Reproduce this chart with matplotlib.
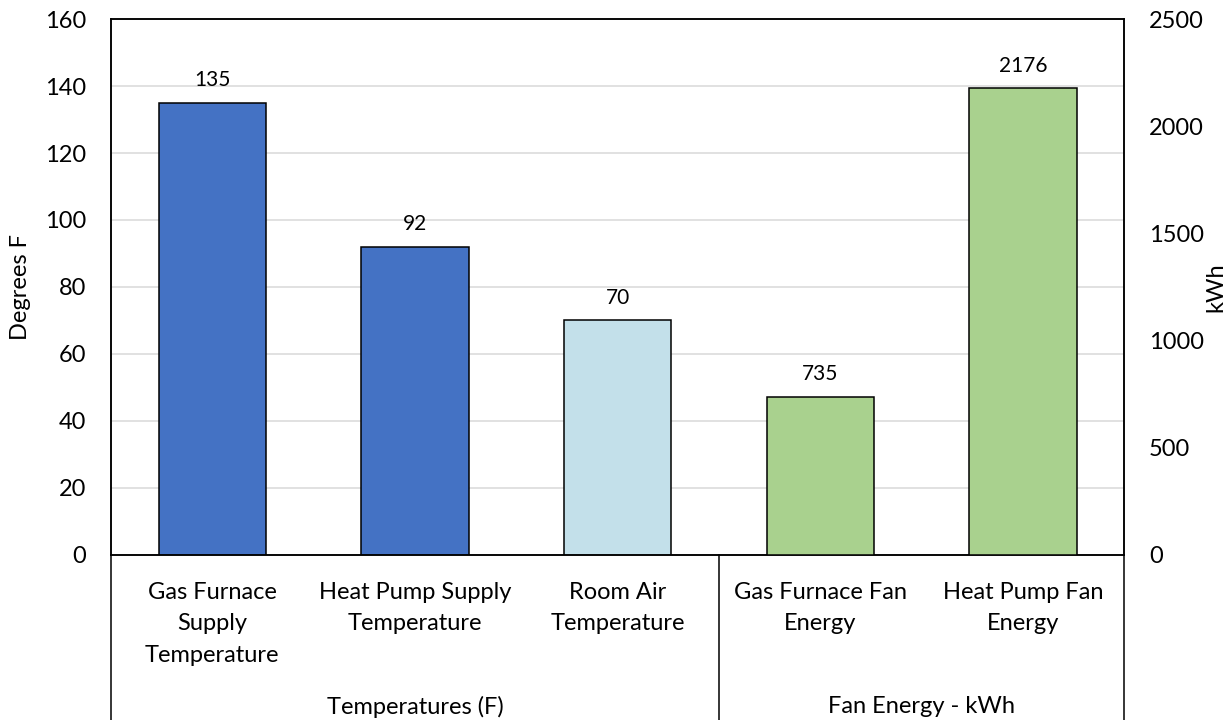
import matplotlib.pyplot as plt
from matplotlib.transforms import blended_transform_factory

plt.rcParams['font.family'] = ['Lato', 'DejaVu Sans']

# Temperatures (left axis, degrees F)
temp_labels = ['Gas Furnace\nSupply\nTemperature', 'Heat Pump Supply\nTemperature',
               'Room Air\nTemperature']
temp_values = [135, 92, 70]
temp_colors = ['#4472C4', '#4472C4', '#C3E0EA']

# Fan energy (right axis, kWh)
fan_labels = ['Gas Furnace Fan\nEnergy', 'Heat Pump Fan\nEnergy']
fan_values = [735, 2176]
fan_color = '#A9D18E'

group_names = ['Temperatures (F)', 'Fan Energy - kWh']

fig = plt.figure(figsize=(12.29, 7.2), dpi=100)
ax = fig.add_axes([0.0903, 0.2292, 0.8244, 0.7444])
ax2 = ax.twinx()

x_temp = list(range(len(temp_values)))
x_fan = [len(temp_values) + i for i in range(len(fan_values))]
width = 0.53

bars1 = ax.bar(x_temp, temp_values, width, color=temp_colors,
               edgecolor='black', linewidth=1.1, zorder=3)
bars2 = ax2.bar(x_fan, fan_values, width, color=fan_color,
                edgecolor='black', linewidth=1.1, zorder=3)

for bars, axis in [(bars1, ax), (bars2, ax2)]:
    for b in bars:
        axis.annotate(f'{b.get_height():.0f}', (b.get_x() + b.get_width() / 2, b.get_height()),
                      xytext=(0, 16.5), textcoords='offset points',
                      ha='center', va='center', fontsize=15)

ax.set_xlim(-0.5, 4.5)
ax.set_ylim(0, 160)
ax.set_yticks(range(0, 161, 20))
ax2.set_ylim(0, 2500)
ax2.set_yticks(range(0, 2501, 500))

ax.grid(axis='y', color='#D9D9D9', linewidth=1.1, zorder=0)
ax.set_axisbelow(True)
ax.set_xticks([])
ax.tick_params(axis='y', length=0, pad=18, labelsize=17)
ax2.tick_params(axis='y', length=0, pad=18, labelsize=17)
for a in (ax, ax2):
    for s in a.spines.values():
        s.set_linewidth(1.1)
        s.set_color('black')

ax.set_ylabel('Degrees F', fontsize=17)
ax.yaxis.set_label_coords(-0.079, 0.5)
ax2.set_ylabel('kWh', fontsize=17, rotation=90)
ax2.yaxis.set_label_coords(1.08, 0.5)

# category labels and group boxes under the plot area
trans = blended_transform_factory(ax.transData, ax.transAxes)
for xi, lab in zip(x_temp + x_fan, temp_labels + fan_labels):
    ax.text(xi, -0.05, lab, transform=trans, ha='center', va='top',
            fontsize=17, linespacing=1.63)

ax.text(1, -0.283, group_names[0], transform=trans, ha='center', va='center', fontsize=17)
ax.text(3.5, -0.283, group_names[1], transform=trans, ha='center', va='center', fontsize=17)

for xd in [-0.5, 2.5, 4.5]:
    ax.plot([xd, xd], [0, -0.31], transform=trans, color='black',
            linewidth=1.1, clip_on=False)

fig.savefig('out.png', dpi=100)
